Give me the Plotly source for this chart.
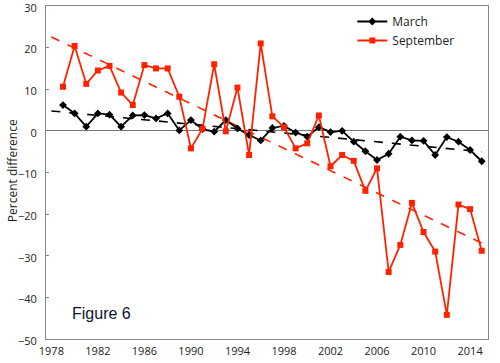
import numpy as np
import plotly.graph_objects as go

years = list(range(1979, 2016))
march = [6.2, 4.2, 1.0, 4.2, 3.9, 1.0, 3.7, 3.8, 3.0, 4.2, 0.1, 2.6,
         0.4, -0.2, 2.6, 0.6, -1.0, -2.3, 0.7, 1.2, -0.4, -1.4, 0.9, -0.3,
         0.0, -2.6, -4.9, -7.0, -5.5, -1.4, -2.3, -2.4, -5.8, -1.5, -2.6, -4.6, -7.3]
september = [10.6, 20.4, 11.3, 14.5, 15.6, 9.2, 6.2, 15.8, 15.0, 15.0, 8.2, -4.2,
             0.5, 16.0, -0.1, 10.4, -5.8, 21.0, 3.5, 0.9, -4.2, -3.0, 3.7, -8.5,
             -5.8, -7.2, -14.4, -9.0, -33.9, -27.4, -17.3, -24.3, -29.0, -44.2, -17.7, -18.8, -28.8]
x_ticks = list(range(1978, 2015, 4))
y_ticks = list(range(-50, 31, 10))

RED = "#ff2200"
trend_x = np.array([1978, 2015])

fig = go.Figure()

for vals, color in [(march, "black"), (september, RED)]:
    c = np.polyfit(years, vals, 1)
    fig.add_trace(go.Scatter(x=trend_x, y=np.polyval(c, trend_x), mode="lines",
                             line=dict(color=color, width=1.6, dash="dash"),
                             showlegend=False, hoverinfo="skip"))

fig.add_trace(go.Scatter(x=years, y=march, name="March", mode="lines+markers",
                         line=dict(color="black", width=1.8),
                         marker=dict(symbol="diamond", size=6, color="black")))
fig.add_trace(go.Scatter(x=years, y=september, name="September", mode="lines+markers",
                         line=dict(color=RED, width=1.8),
                         marker=dict(symbol="square", size=6, color=RED)))

fig.add_annotation(x=0.054, y=0.078, xref="paper", yref="paper", text="Figure 6",
                   showarrow=False, xanchor="left", yanchor="middle",
                   font=dict(family="Liberation Sans, Arial", size=16, color="#0a1530"))
fig.add_annotation(x=-0.077, y=0.507, xref="paper", yref="paper", text="Percent difference",
                   showarrow=False, textangle=-90, xanchor="center", yanchor="middle",
                   font=dict(size=12, color="#222"))

fig.update_layout(
    width=500, height=363,
    margin=dict(l=46, r=12, t=6, b=24, autoexpand=False),
    paper_bgcolor="white", plot_bgcolor="white",
    font=dict(family="Open Sans, Liberation Sans", size=11, color="#222"),
    showlegend=True,
    legend=dict(x=0.693, y=0.997, xanchor="left", yanchor="top",
                bgcolor="rgba(0,0,0,0)", font=dict(size=12), tracegroupgap=0),
    xaxis=dict(range=[1977.54, 2015.54], tickvals=x_ticks, ticktext=[str(t) for t in x_ticks],
               showgrid=False, zeroline=False, showline=True, linecolor="#888", linewidth=1,
               mirror=True, ticks="", tickfont=dict(size=11), automargin=False,
               ticklabelstandoff=2, ticklabeloverflow="allow"),
    yaxis=dict(range=[-50, 30], tickvals=y_ticks, showgrid=False,
               zeroline=True, zerolinecolor="#777", zerolinewidth=1,
               showline=True, linecolor="#888", linewidth=1, mirror=True,
               ticks="inside", ticklen=3, tickcolor="#888", ticklabelshift=2,
               ticklabelstandoff=6,
               tickfont=dict(size=11), automargin=False, ticklabeloverflow="allow"),
)

fig.write_html("out.html", config={"displayModeBar": False},
               post_script="document.body.style.margin='0';document.body.style.overflow='hidden';")
